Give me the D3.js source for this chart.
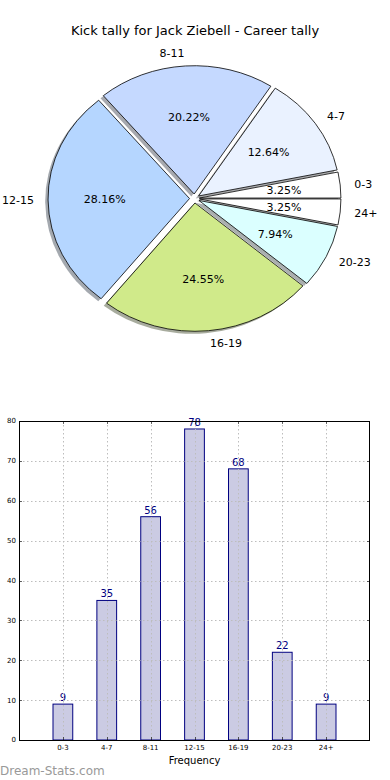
<!DOCTYPE html>
<html>
<head>
<meta charset="utf-8">
<script src="https://cdn.jsdelivr.net/npm/d3@7"></script>
<style>
html,body{margin:0;padding:0;background:#fff;}
svg{display:block;font-family:"DejaVu Sans",sans-serif;}
</style>
</head>
<body>
<svg id="chart" width="390" height="780"></svg>
<script>
const categories = ["0-3","4-7","8-11","12-15","16-19","20-23","24+"];
const counts = [9,35,56,78,68,22,9];
const sliceColors = ["#ffffff","#eaf2ff","#c5d9ff","#b5d6ff","#d0ea8a","#dbffff","#ffffff"];
const yTicks = [0,10,20,30,40,50,60,70,80];
const titleText = "Kick tally for Jack Ziebell - Career tally";
const xAxisLabel = "Frequency";
const watermark = "Dream-Stats.com";

const svg = d3.select("#chart");

// ---------- Title ----------
svg.append("text").attr("x",195).attr("y",35).attr("text-anchor","middle")
  .attr("font-size",13).attr("fill","#000").text(titleText);

// ---------- Pie ----------
const cx = 194.5, cy = 198.5, rx = 141.5, ry = 128.3, explode = 0.035;
const total = d3.sum(counts);
let acc = 0;
const slices = counts.map((v,i)=>{
  const t1 = acc/total*2*Math.PI; acc += v; const t2 = acc/total*2*Math.PI;
  return {i, v, t1, t2, tm:(t1+t2)/2};
});
const arc = d3.arc().innerRadius(0).outerRadius(rx);
const sy = ry/rx;
function ecx(s){return cx + explode*rx*Math.cos(s.tm);}
function ecy(s){return cy - explode*ry*Math.sin(s.tm);}
function pathFor(s){
  return arc({startAngle:Math.PI/2 - s.t2, endAngle:Math.PI/2 - s.t1});
}
const pie = svg.append("g");
slices.forEach(s=>{
  const c = d3.color(sliceColors[s.i]);
  const sc = d3.rgb(c.r*0.3,c.g*0.3,c.b*0.3);
  pie.append("path")
    .attr("d",pathFor(s))
    .attr("transform",`translate(${ecx(s)-0.02*rx},${ecy(s)+0.02*ry}) scale(1,${sy})`)
    .attr("fill",sc).attr("fill-opacity",0.45)
    .attr("stroke","none");
});
slices.forEach(s=>{
  pie.append("path")
    .attr("d",pathFor(s))
    .attr("transform",`translate(${ecx(s)},${ecy(s)}) scale(1,${sy})`)
    .attr("fill",sliceColors[s.i])
    .attr("stroke","#000").attr("stroke-width",0.8)
    .attr("vector-effect","non-scaling-stroke");
});
slices.forEach(s=>{
  const lx = ecx(s) + 1.1*rx*Math.cos(s.tm);
  const ly = ecy(s) - 1.1*ry*Math.sin(s.tm);
  pie.append("text").attr("x",lx).attr("y",ly).attr("dy","0.35em")
    .attr("text-anchor", lx > cx ? "start" : "end")
    .attr("font-size",11).attr("fill","#000").text(categories[s.i]);
  const px = ecx(s) + 0.6*rx*Math.cos(s.tm);
  const py = ecy(s) - 0.6*ry*Math.sin(s.tm);
  pie.append("text").attr("x",px).attr("y",py).attr("dy","0.35em")
    .attr("text-anchor","middle").attr("font-size",11).attr("fill","#000")
    .text((s.v/total*100).toFixed(2)+"%");
});

// ---------- Bar chart ----------
const L = 19, R = 370, T = 421, B = 740;
const x = d3.scaleLinear().domain([-1, categories.length]).range([L,R]);
const y = d3.scaleLinear().domain([0,80]).range([B,T]);
const bw = x(0.45) - x(0);
const bars = svg.append("g");

bars.selectAll("rect.bar").data(counts).enter().append("rect")
  .attr("x",(d,i)=>x(i)-bw/2).attr("y",d=>y(d))
  .attr("width",bw).attr("height",d=>B-y(d))
  .attr("fill","#cbcbe3").attr("stroke","#000080").attr("stroke-width",1);

const grid = svg.append("g").attr("stroke","#bdbdbd").attr("stroke-width",1)
  .attr("stroke-dasharray","1.5,2.5");
yTicks.forEach(t=>{
  grid.append("line").attr("x1",L).attr("x2",R).attr("y1",Math.round(y(t))+0.5).attr("y2",Math.round(y(t))+0.5);
});
categories.forEach((c,i)=>{
  grid.append("line").attr("x1",Math.round(x(i))+0.5).attr("x2",Math.round(x(i))+0.5).attr("y1",T).attr("y2",B);
});

bars.selectAll("text.val").data(counts).enter().append("text")
  .attr("x",(d,i)=>x(i)).attr("y",d=>y(d)-3)
  .attr("text-anchor","middle").attr("font-size",10).attr("fill","#000080")
  .text(d=>d);

svg.append("rect").attr("x",L+0.5).attr("y",T+0.5).attr("width",R-L-1).attr("height",B-T)
  .attr("fill","none").attr("stroke","#000").attr("stroke-width",1);

const tk = svg.append("g").attr("stroke","#000").attr("stroke-width",0.6);
yTicks.forEach(t=>{
  const yy = Math.round(y(t))+0.5;
  tk.append("line").attr("x1",L).attr("x2",L+3).attr("y1",yy).attr("y2",yy);
  tk.append("line").attr("x1",R-3).attr("x2",R).attr("y1",yy).attr("y2",yy);
});
categories.forEach((c,i)=>{
  const xx = Math.round(x(i))+0.5;
  tk.append("line").attr("x1",xx).attr("x2",xx).attr("y1",B).attr("y2",B-3);
  tk.append("line").attr("x1",xx).attr("x2",xx).attr("y1",T).attr("y2",T+3);
});

svg.append("g").selectAll("text").data(yTicks).enter().append("text")
  .attr("x",L-3).attr("y",d=>y(d)).attr("dy","0.35em")
  .attr("text-anchor","end").attr("font-size",7).attr("fill","#000").text(d=>d);
svg.append("g").selectAll("text").data(categories).enter().append("text")
  .attr("x",(d,i)=>x(i)).attr("y",B+10)
  .attr("text-anchor","middle").attr("font-size",7).attr("fill","#000").text(d=>d);
svg.append("text").attr("x",(L+R)/2).attr("y",B+24).attr("text-anchor","middle")
  .attr("font-size",10).attr("fill","#000").text(xAxisLabel);

svg.append("text").attr("x",0).attr("y",775).attr("font-size",12)
  .attr("fill","#999").text(watermark);
</script>
</body>
</html>
